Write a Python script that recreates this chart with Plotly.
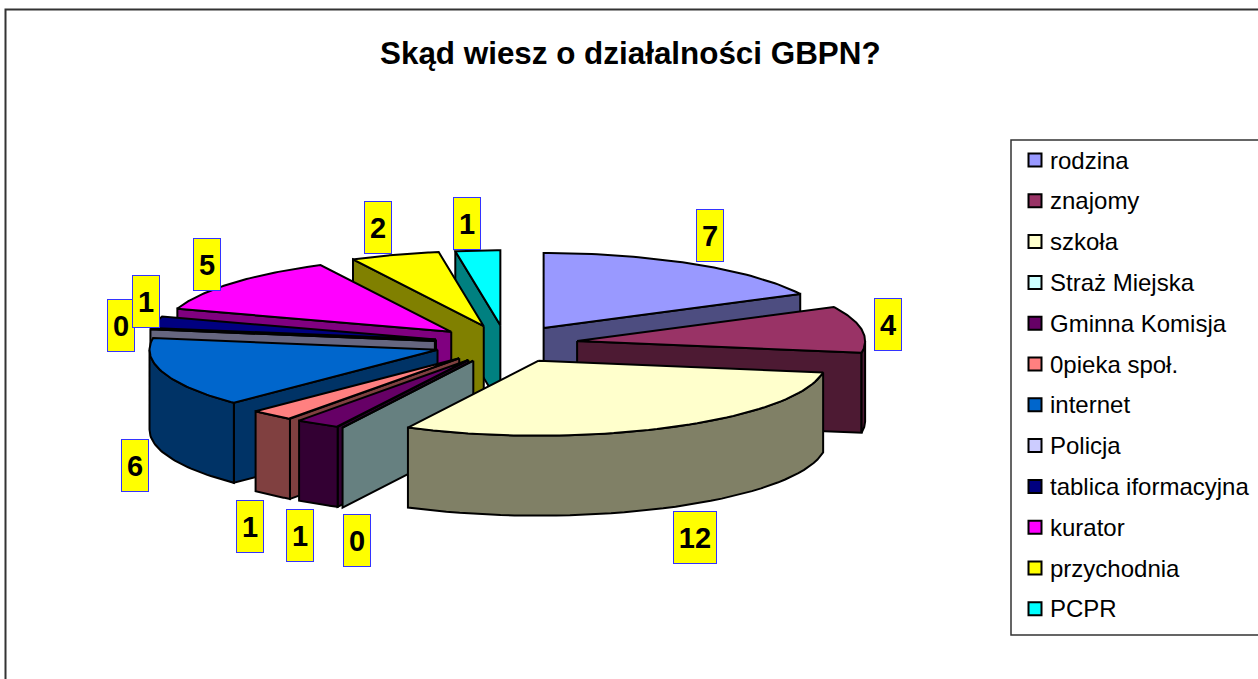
import numpy as np
import plotly.graph_objects as go

categories = ["rodzina", "znajomy", "szkoła", "Straż Miejska", "Gminna Komisja", "0pieka społ.",
              "internet", "Policja", "tablica iformacyjna", "kurator", "przychodnia", "PCPR"]
values = [7, 4, 12, 0, 1, 1, 6, 0, 1, 5, 2, 1]
colors = ["#9999FF", "#993366", "#FFFFCC", "#CCFFFF", "#660066", "#FF8080",
          "#0066CC", "#CCCCFF", "#000080", "#FF00FF", "#FFFF00", "#00FFFF"]
side_colors = ["#4D4D80", "#4D1A33", "#808066", "#668080", "#330033", "#804040",
               "#003366", "#666680", "#000040", "#800080", "#808000", "#008080"]
draw_order = [11, 10, 9, 8, 7, 6, 5, 4, 3, 0, 1, 2]
label_x = [710, 888, 695, 357, 300, 250, 135, 121, 146, 207, 378, 467]
label_y = [235, 324, 537, 540, 535, 526, 465, 325, 301, 264, 227, 223]

CX, CY, RX, RY, DEPTH, EXPLODE = 506, 344, 288, 75, 80, 0.25
OUT = "#000000"


def pt(t, ax, ay, dz=0):
    r = np.radians(t)
    return ax + RX * np.sin(r), ay - RY * np.cos(r) + dz


def poly(fig, xs, ys, fill, name):
    xs, ys = list(xs), list(ys)
    fig.add_trace(go.Scatter(x=xs + xs[:1], y=ys + ys[:1], mode="lines", fill="toself", fillcolor=fill,
                             line=dict(color=OUT, width=2), name=name, hoverinfo="name", showlegend=False))


fig = go.Figure()
total = sum(values)
ends = np.cumsum(values) / total * 360
starts = ends - np.array(values) / total * 360

for i in draw_order:
    t0, t1 = starts[i], ends[i]
    mid = np.radians((t0 + t1) / 2)
    ax = CX + EXPLODE * RX * np.sin(mid)
    ay = CY - EXPLODE * RY * np.cos(mid)
    name = categories[i]
    # radial cut faces that look towards the viewer
    for t, seen in ((t0, np.sin(np.radians(t0)) < 0), (t1, np.sin(np.radians(t1)) > 0)):
        if seen and (values[i] > 0 or t == t0):
            ex, ey = pt(t, ax, ay)
            poly(fig, [ax, ex, ex, ax], [ay, ey, ey + DEPTH, ay + DEPTH], side_colors[i], name)
    # outer rim, front half only
    a, b = max(t0, 90), min(t1, 270)
    if b > a:
        ts = np.linspace(a, b, 40)
        rx, ry = pt(ts, ax, ay)
        poly(fig, np.r_[rx, rx[::-1]], np.r_[ry, ry[::-1] + DEPTH], side_colors[i], name)
    # top face
    ts = np.linspace(t0, t1, 60)
    tx, ty = pt(ts, ax, ay)
    poly(fig, np.r_[ax, tx], np.r_[ay, ty], colors[i], name)

shapes = [
    dict(type="rect", xref="x", yref="y", x0=5.5, y0=9.5, x1=1270, y1=700, line=dict(color="#333333", width=2)),
    dict(type="rect", xref="x", yref="y", x0=1011, y0=140, x1=1270, y1=635, line=dict(color="#333333", width=1.5)),
]
annotations = [dict(x=630, y=53, xref="x", yref="y", text="<b>Skąd wiesz o działalności GBPN?</b>", showarrow=False,
                    font=dict(family="Liberation Sans", size=31.4, color="#000000"))]

for k, (name, c) in enumerate(zip(categories, colors)):
    yc = 160 + k * 40.8
    shapes.append(dict(type="rect", xref="x", yref="y", x0=1028.5, x1=1041.5, y0=yc - 6.5, y1=yc + 6.5,
                       fillcolor=c, line=dict(color="#000000", width=2)))
    annotations.append(dict(x=1048, y=yc, xref="x", yref="y", text=name, showarrow=False, xanchor="left",
                            font=dict(family="Liberation Sans", size=24, color="#000000")))

for v, lx, ly in zip(values, label_x, label_y):
    annotations.append(dict(x=lx, y=ly, xref="x", yref="y", text=f"<b>{v}</b>", showarrow=False,
                            width=38 if v >= 10 else 22, height=47, align="center", valign="middle",
                            bgcolor="#FFFF00", bordercolor="#3333FF", borderwidth=1, borderpad=2,
                            font=dict(family="Liberation Sans", size=29, color="#000000")))

fig.update_layout(
    width=1258, height=679, margin=dict(l=0, r=0, t=0, b=0), paper_bgcolor="#FFFFFF", plot_bgcolor="#FFFFFF",
    showlegend=False, shapes=shapes, annotations=annotations,
    xaxis=dict(range=[0, 1258], visible=False, fixedrange=True),
    yaxis=dict(range=[679, 0], visible=False, fixedrange=True),
)
fig.write_html("out.html", config={"displayModeBar": False},
               post_script="document.body.style.margin='0';document.body.style.overflow='hidden';")
